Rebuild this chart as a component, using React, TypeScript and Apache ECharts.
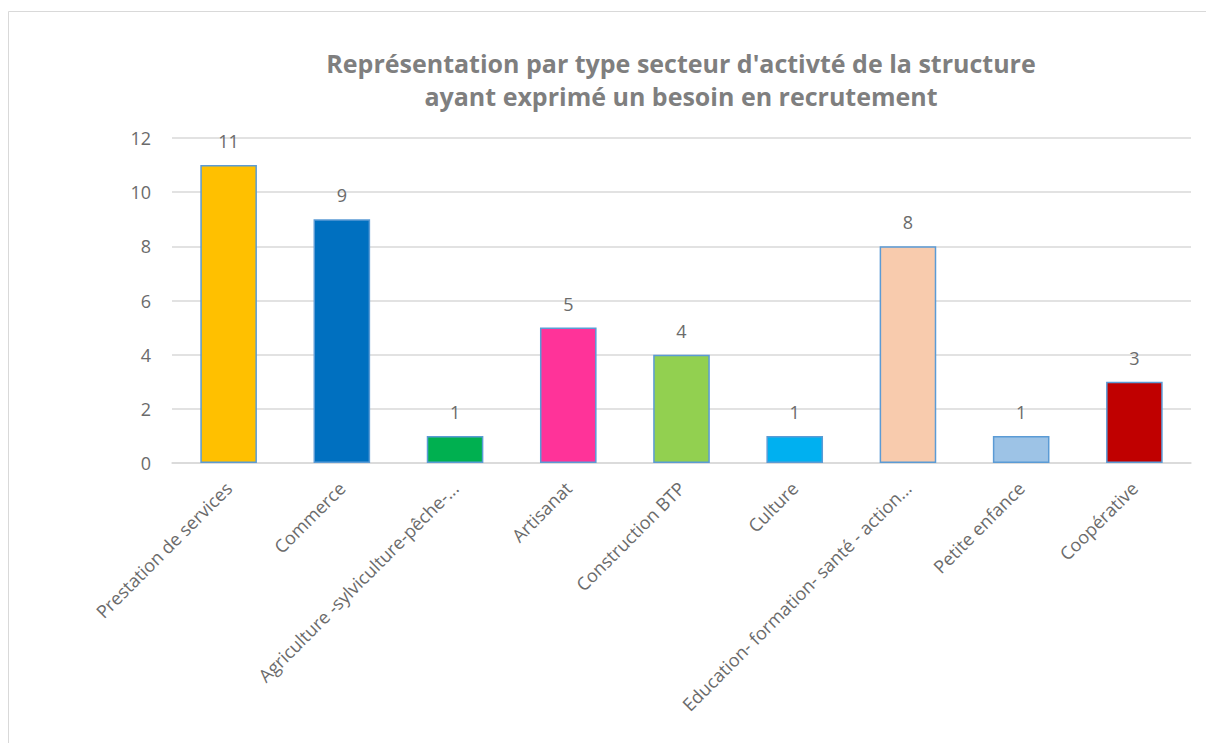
import React, { useEffect, useRef } from "react";
import * as echarts from "echarts";

const categories = [
  "Prestation de services",
  "Commerce",
  "Agriculture -sylviculture-pêche-...",
  "Artisanat",
  "Construction BTP",
  "Culture",
  "Education- formation- santé - action...",
  "Petite enfance",
  "Coopérative",
];
const values = [11, 9, 1, 5, 4, 1, 8, 1, 3];
const barColors = ["#FFC000", "#0070C0", "#00B050", "#FF3399", "#92D050", "#00B0F0", "#F8CBAD", "#9DC3E6", "#C00000"];
const titleText = "Représentation par type secteur d'activté de la structure\nayant exprimé un besoin en recrutement";

export default function App() {
  const ref = useRef<HTMLDivElement>(null);
  useEffect(() => {
    const chart = echarts.init(ref.current!, null, { renderer: "svg" });
    chart.setOption({
      animation: false,
      backgroundColor: "#ffffff",
      title: {
        text: titleText,
        left: 676,
        top: 41,
        textAlign: "center",
        textStyle: {
          fontFamily: "Open Sans",
          fontWeight: "bold",
          fontSize: 25,
          color: "#7f7f7f",
          lineHeight: 33,
        },
      },
      graphic: [
        { type: "line", shape: { x1: 8.5, y1: 11.5, x2: 8.5, y2: 743 }, style: { stroke: "#d9d9d9", lineWidth: 1 } },
        { type: "line", shape: { x1: 8.5, y1: 11.5, x2: 1206, y2: 11.5 }, style: { stroke: "#d9d9d9", lineWidth: 1 } },
      ],
      grid: { left: 172, right: 15, top: 138, bottom: 280 },
      xAxis: {
        type: "category",
        data: categories,
        axisLine: { lineStyle: { color: "#d9d9d9", width: 1.5 } },
        axisTick: { show: false },
        axisLabel: {
          rotate: 45,
          interval: 0,
          color: "#6b6b6b",
          fontFamily: "Open Sans",
          fontSize: 18,
          margin: 22,
        },
      },
      yAxis: {
        type: "value",
        min: 0,
        max: 12,
        interval: 2,
        axisLine: { show: false },
        axisTick: { show: false },
        splitLine: { lineStyle: { color: "#d9d9d9", width: 1.5 } },
        axisLabel: {
          color: "#6b6b6b",
          fontFamily: "Open Sans",
          fontSize: 18,
          margin: 21,
        },
      },
      series: [
        {
          type: "bar",
          barWidth: "50%",
          data: values.map((v, i) => ({
            value: v,
            itemStyle: { color: barColors[i], borderColor: "#5B9BD5", borderWidth: 1.5 },
          })),
          label: {
            show: true,
            position: "top",
            distance: 15,
            color: "#6b6b6b",
            fontFamily: "Open Sans",
            fontSize: 18,
          },
        },
      ],
    });
    return () => chart.dispose();
  }, []);
  return (
    <div
      ref={ref}
      style={{ position: "fixed", left: 0, top: 0, width: 1206, height: 743 }}
    />
  );
}
